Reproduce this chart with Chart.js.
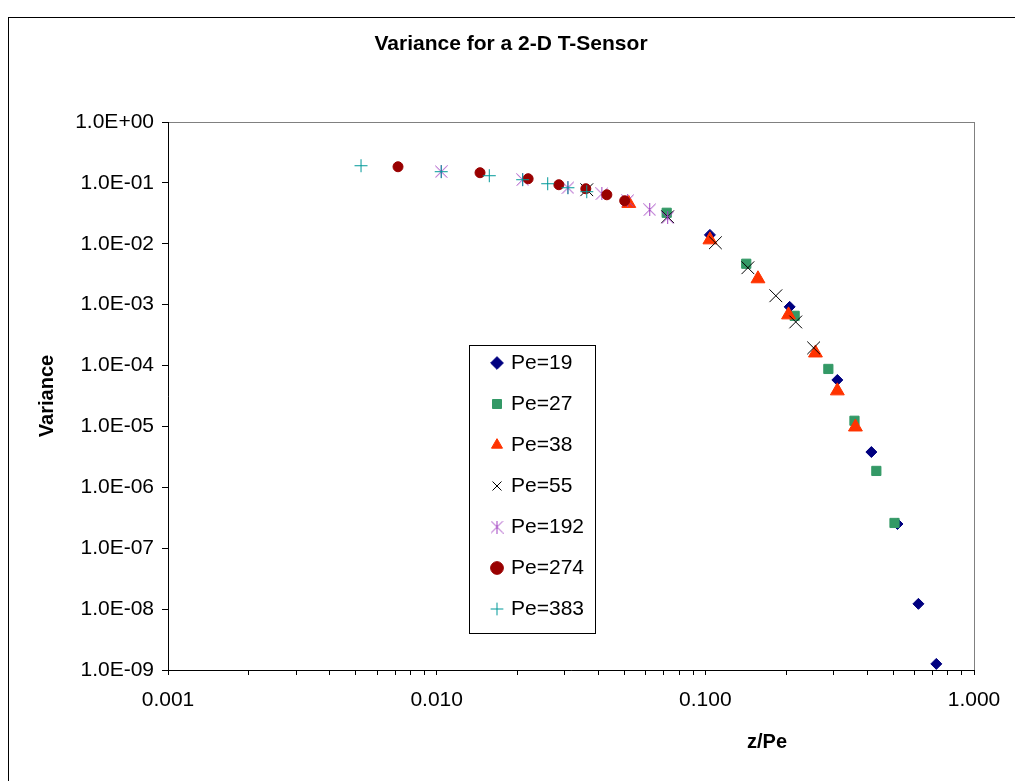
<!DOCTYPE html>
<html>
<head>
<meta charset="utf-8">
<title>Variance for a 2-D T-Sensor</title>
<script src="https://cdn.jsdelivr.net/npm/chart.js@4.4.1/dist/chart.umd.min.js"></script>
<style>
  html, body { margin: 0; padding: 0; background: #fff; overflow: hidden; }
  #chart { position: absolute; left: 0; top: 0; z-index: 1; }
  #frame { position: absolute; left: 8px; top: 17px; width: 1100px; height: 900px; border: 1px solid #000; z-index: 2; pointer-events: none; }
</style>
</head>
<body>
<canvas id="chart" width="1015" height="781"></canvas>
<div id="frame"></div>
<script>
// Series values (x = z/Pe, y = variance)
const seriesNames = ["Pe=19", "Pe=27", "Pe=38", "Pe=55", "Pe=192", "Pe=274", "Pe=383"];

const pe19X = [0.104, 0.206, 0.310, 0.415, 0.519, 0.621, 0.724];
const pe19Y = [1.40e-2, 9.2e-4, 5.8e-5, 3.8e-6, 2.5e-7, 1.22e-8, 1.26e-9];

const pe27X = [0.0718, 0.142, 0.215, 0.287, 0.359, 0.433, 0.506];
const pe27Y = [3.23e-2, 4.7e-3, 6.56e-4, 8.8e-5, 1.24e-5, 1.86e-6, 2.6e-7];

const pe38X = [0.0519, 0.104, 0.157, 0.204, 0.257, 0.310, 0.362];
const pe38Y = [4.6e-2, 1.16e-2, 2.66e-3, 6.8e-4, 1.61e-4, 3.84e-5, 9.8e-6];

const pe55X = [0.0362, 0.0724, 0.109, 0.144, 0.183, 0.217, 0.253];
const pe55Y = [7.72e-2, 2.78e-2, 1.04e-2, 4.04e-3, 1.40e-3, 5.2e-4, 1.95e-4];

const pe192X = [0.0104, 0.0209, 0.0308, 0.0412, 0.0514, 0.0621, 0.0724];
const pe192Y = [0.1526, 0.1127, 8.32e-2, 6.63e-2, 5.09e-2, 3.62e-2, 2.68e-2];

const pe274X = [0.00718, 0.0145, 0.0219, 0.0285, 0.0359, 0.0430, 0.0501];
const pe274Y = [0.184, 0.1469, 0.117, 9.33e-2, 8.02e-2, 6.38e-2, 5.09e-2];

const pe383X = [0.00523, 0.0104, 0.0157, 0.0209, 0.0259, 0.0308, 0.0362];
const pe383Y = [0.1913, 0.1526, 0.1311, 0.1127, 9.68e-2, 8.32e-2, 7.16e-2];

// Axis ticks
const xMajorTicks = [0.001, 0.01, 0.1, 1];
const xMinorSteps = [2, 3, 4, 5, 6, 7, 8, 9];
const yTicks = [1e-9, 1e-8, 1e-7, 1e-6, 1e-5, 1e-4, 1e-3, 1e-2, 1e-1, 1];

// Placement of the legend frame and the titles (pixels)
const legendFrame = { left: 469, top: 345, width: 126, height: 288 };
const xTitleCenter = 767;
const mainTitleCenter = 511;

Chart.defaults.font.family = '"Liberation Sans", Arial, sans-serif';
Chart.defaults.color = "#000";

// Excel style asterisk marker (vertical bar plus two diagonals)
function asteriskMarker(color, size) {
    const c = document.createElement("canvas");
    c.width = size;
    c.height = size;
    const g = c.getContext("2d");
    g.strokeStyle = color;
    g.lineWidth = 1;
    g.beginPath();
    g.moveTo(size / 2, 0);
    g.lineTo(size / 2, size);
    g.moveTo(0.5, 0.5);
    g.lineTo(size - 0.5, size - 0.5);
    g.moveTo(size - 0.5, 0.5);
    g.lineTo(0.5, size - 0.5);
    g.stroke();
    return c;
}

function toPoints(xs, ys) {
    return xs.map((x, i) => ({ x: x, y: ys[i] }));
}

function isDecade(v) {
    const l = Math.log10(v);
    return Math.abs(l - Math.round(l)) < 1e-9;
}

function sciLabel(v) {
    const e = Math.round(Math.log10(v));
    return "1.0E" + (e < 0 ? "-" : "+") + String(Math.abs(e)).padStart(2, "0");
}

const styles = [
    { pointStyle: "rectRot", color: "#000080", radius: 5.5 },
    { pointStyle: "rect", color: "#339966", radius: 6.5 },
    { pointStyle: "triangle", color: "#FF3300", radius: 8 },
    { pointStyle: "crossRot", color: "#000000", radius: 9 },
    { pointStyle: asteriskMarker("#A040C0", 13), color: "#A040C0", radius: 6.5 },
    { pointStyle: "circle", color: "#990000", radius: 5 },
    { pointStyle: "cross", color: "#009999", radius: 6.5 },
];

const seriesX = [pe19X, pe27X, pe38X, pe55X, pe192X, pe274X, pe383X];
const seriesY = [pe19Y, pe27Y, pe38Y, pe55Y, pe192Y, pe274Y, pe383Y];

const datasets = seriesNames.map((name, i) => ({
    label: name,
    data: toPoints(seriesX[i], seriesY[i]),
    showLine: false,
    pointStyle: styles[i].pointStyle,
    pointRadius: styles[i].radius,
    pointBackgroundColor: styles[i].color,
    pointBorderColor: styles[i].color,
    backgroundColor: styles[i].color,
    borderColor: styles[i].color,
    pointBorderWidth: 1,
    borderWidth: 1,
    order: seriesNames.length - i, // later series on top, like Excel
}));

// Moves the legend / title boxes and draws the frames
const placeBoxes = {
    id: "placeBoxes",
    afterLayout(chart) {
        const lg = chart.legend;
        lg.left = legendFrame.left + 4.5;
        lg.right = legendFrame.left + legendFrame.width;
        lg.top = legendFrame.top - 12.5;
        lg.bottom = legendFrame.top + legendFrame.height + 30;

        const sub = chart.boxes.find((b) => b.options && b.options.text === "z/Pe");
        if (sub) {
            sub.left = xTitleCenter - 60;
            sub.right = xTitleCenter + 60;
        }
        const ttl = chart.titleBlock;
        if (ttl) {
            ttl.left = mainTitleCenter - 300;
            ttl.right = mainTitleCenter + 300;
        }
    },
    beforeDraw(chart) {
        const a = chart.chartArea;
        const ctx = chart.ctx;
        ctx.save();
        ctx.fillStyle = "#fff";
        ctx.fillRect(0, 0, chart.width, chart.height);
        ctx.strokeStyle = "#808080";
        ctx.lineWidth = 1;
        ctx.strokeRect(Math.round(a.left) + 0.5, Math.round(a.top) + 0.5,
            Math.round(a.right - a.left), Math.round(a.bottom - a.top));
        ctx.restore();
    },
    afterDraw(chart) {
        const ctx = chart.ctx;
        ctx.save();
        ctx.strokeStyle = "#000";
        ctx.lineWidth = 1;
        ctx.strokeRect(legendFrame.left + 0.5, legendFrame.top + 0.5, legendFrame.width, legendFrame.height);
        ctx.restore();
    },
};

const chart = new Chart(document.getElementById("chart"), {
    type: "scatter",
    data: { datasets: datasets },
    options: {
        responsive: false,
        animation: false,
        devicePixelRatio: 1,
        layout: { padding: { left: 0, right: 41, top: 0, bottom: 0 } },
        plugins: {
            title: {
                display: true,
                text: "Variance for a 2-D T-Sensor",
                font: { size: 21, weight: "bold" },
                color: "#000",
                padding: { top: 32, bottom: 64.8 },
            },
            subtitle: {
                display: true,
                position: "bottom",
                text: "z/Pe",
                font: { size: 20, weight: "bold" },
                color: "#000",
                padding: { top: 0, bottom: 27 },
            },
            legend: {
                position: "chartArea",
                align: "start",
                labels: {
                    usePointStyle: true,
                    boxWidth: 7,
                    boxHeight: 9,
                    padding: 20,
                    font: { size: 21 },
                    color: "#000",
                    sort: (a, b) => a.datasetIndex - b.datasetIndex,
                },
            },
            tooltip: { enabled: false },
        },
        scales: {
            x: {
                type: "logarithmic",
                position: "bottom",
                min: 0.001,
                max: 1,
                afterFit: (s) => { s.height = 60; },
                afterBuildTicks: (s) => {
                    const t = [];
                    xMajorTicks.forEach((m, i) => {
                        t.push({ value: m, major: true });
                        if (i < xMajorTicks.length - 1) {
                            xMinorSteps.forEach((k) => t.push({ value: m * k }));
                        }
                    });
                    s.ticks = t;
                },
                grid: { display: true, drawOnChartArea: false, drawTicks: true, tickLength: 5, color: "#000" },
                border: { display: true, color: "#000", width: 1 },
                ticks: {
                    autoSkip: false,
                    maxRotation: 0,
                    minRotation: 0,
                    padding: 13,
                    font: { size: 21 },
                    color: "#000",
                    callback: (v) => (isDecade(v) ? Number(v).toFixed(3) : ""),
                },
            },
            y: {
                type: "logarithmic",
                position: "left",
                min: 1e-9,
                max: 1,
                afterFit: (s) => { s.width = 168; },
                afterBuildTicks: (s) => {
                    s.ticks = yTicks.map((v) => ({ value: v }));
                },
                title: {
                    display: true,
                    text: "Variance",
                    font: { size: 20, weight: "bold" },
                    color: "#000",
                    padding: { top: 35, bottom: 0 },
                },
                grid: { display: true, drawOnChartArea: false, drawTicks: true, tickLength: 6, color: "#000" },
                border: { display: true, color: "#000", width: 1 },
                ticks: {
                    autoSkip: false,
                    padding: 8,
                    font: { size: 21 },
                    color: "#000",
                    callback: (v) => sciLabel(v),
                },
            },
        },
    },
    plugins: [placeBoxes],
});
</script>
</body>
</html>
